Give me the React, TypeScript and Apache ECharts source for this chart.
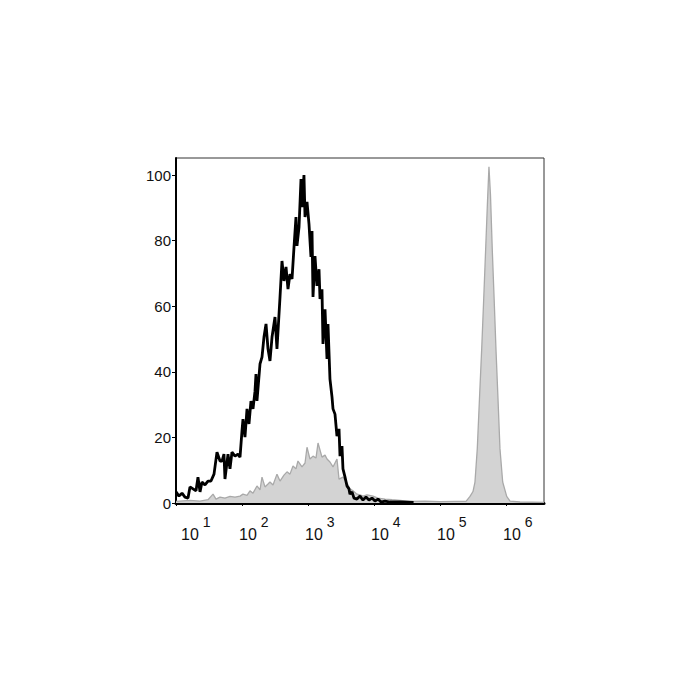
import React, { useEffect, useRef } from "react";
import * as echarts from "echarts";

// x = log10 of fluorescence intensity, y = normalized count (% of max)
const blackHistogram: [number, number][] = [
  [1.0, 3.4], [1.045, 2.1], [1.091, 3.0], [1.136, 1.8], [1.182, 1.5], [1.212, 4.9],
  [1.258, 4.3], [1.303, 3.7], [1.333, 7.9], [1.364, 3.4], [1.394, 6.4], [1.439, 5.5],
  [1.485, 6.7], [1.53, 6.7], [1.576, 8.8], [1.621, 15.5], [1.667, 12.8], [1.697, 12.8],
  [1.727, 14.9], [1.742, 7.3], [1.788, 14.9], [1.818, 10.4], [1.848, 15.5], [1.894, 14.3],
  [1.939, 14.9], [1.97, 14.0], [2.0, 22.0], [2.015, 25.6], [2.045, 20.1], [2.076, 28.7],
  [2.106, 24.1], [2.136, 31.1], [2.167, 28.7], [2.197, 34.1], [2.212, 39.3], [2.227, 31.1],
  [2.273, 42.4], [2.303, 44.5], [2.333, 50.6], [2.364, 54.6], [2.394, 47.0], [2.424, 43.3],
  [2.455, 50.6], [2.5, 56.7], [2.53, 47.0], [2.576, 62.8], [2.606, 73.8], [2.636, 67.7],
  [2.667, 72.0], [2.697, 65.2], [2.727, 69.8], [2.758, 68.3], [2.788, 78.0], [2.818, 87.2],
  [2.833, 78.4], [2.864, 84.1], [2.894, 98.8], [2.909, 90.2], [2.939, 100.0], [2.955, 87.2],
  [2.985, 91.8], [3.015, 85.1], [3.045, 75.0], [3.061, 82.9], [3.076, 62.8], [3.106, 75.3],
  [3.136, 66.2], [3.167, 71.3], [3.182, 62.2], [3.212, 65.2], [3.227, 48.5], [3.258, 59.1],
  [3.288, 43.9], [3.303, 54.6], [3.333, 37.8], [3.364, 32.3], [3.379, 28.7], [3.409, 27.1],
  [3.439, 20.4], [3.47, 22.6], [3.485, 14.3], [3.515, 17.4], [3.53, 10.4], [3.561, 7.9],
  [3.591, 5.2], [3.621, 4.3], [3.636, 2.7], [3.667, 3.4], [3.697, 1.5], [3.742, 1.2],
  [3.788, 2.1], [3.833, 0.9], [3.879, 1.8], [3.924, 0.9], [3.97, 1.5], [4.015, 0.6],
  [4.061, 1.2], [4.106, 0.3], [4.167, 0.6], [4.242, 0.3], [4.394, 0.3], [4.6, 0.2],
];

const grayHistogramLow: [number, number][] = [
  [1.0, 0.5], [1.212, 0.8], [1.364, 0.6], [1.485, 1.0], [1.561, 2.7], [1.606, 1.2],
  [1.667, 1.8], [1.742, 1.5], [1.818, 2.0], [1.894, 1.8], [1.97, 2.1], [2.015, 2.7],
  [2.076, 2.3], [2.121, 3.7], [2.167, 3.0], [2.227, 5.2], [2.273, 4.0], [2.303, 7.9],
  [2.348, 4.9], [2.394, 5.8], [2.424, 6.4], [2.47, 5.5], [2.53, 8.8], [2.576, 6.7],
  [2.636, 8.5], [2.682, 9.5], [2.727, 8.8], [2.773, 11.3], [2.818, 10.4], [2.848, 12.8],
  [2.909, 11.0], [2.955, 12.2], [2.985, 17.0], [3.03, 13.4], [3.076, 14.3], [3.121, 13.7],
  [3.152, 18.3], [3.212, 14.0], [3.258, 14.6], [3.288, 13.4], [3.333, 12.5], [3.379, 11.0],
  [3.439, 13.4], [3.47, 7.3], [3.53, 7.9], [3.591, 6.1], [3.636, 4.3], [3.682, 3.7],
  [3.742, 2.7], [3.788, 2.5], [3.833, 2.1], [3.894, 2.5], [3.985, 2.1], [4.061, 1.5],
  [4.167, 1.2], [4.273, 1.0], [4.394, 0.8], [4.545, 0.5], [4.773, 0.6], [5.0, 0.4],
  [5.227, 0.5],
];

const grayHistogramPeak: [number, number][] = [
  [5.394, 0.5], [5.455, 2.0], [5.5, 3.5], [5.53, 6.4], [5.565, 16.5], [5.598, 31.7],
  [5.632, 47.0], [5.662, 62.0], [5.692, 77.4], [5.72, 92.0], [5.742, 102.5], [5.765, 94.0],
  [5.792, 77.4], [5.821, 62.0], [5.848, 47.0], [5.879, 31.7], [5.909, 16.5], [5.95, 6.4],
  [6.011, 2.0], [6.061, 0.6], [6.212, 0.3], [6.576, 0.2],
];

const yTicks = [0, 20, 40, 60, 80, 100];
const xDecades = [1, 2, 3, 4, 5, 6];

export default function App() {
  const ref = useRef<HTMLDivElement>(null);
  useEffect(() => {
    if (!ref.current) return;
    const chart = echarts.init(ref.current, undefined, { renderer: "svg" });
    const font = "Liberation Sans, Arial, sans-serif";
    chart.setOption({
      animation: false,
      backgroundColor: "#ffffff",
      grid: {
        left: 176,
        right: 156,
        top: 158,
        bottom: 197,
        show: true,
        borderColor: "#333",
        borderWidth: 1,
        backgroundColor: "transparent",
      },
      xAxis: {
        type: "value",
        min: 1,
        max: 6.576,
        interval: 1,
        splitLine: { show: false },
        axisLine: { show: true, onZero: false, lineStyle: { color: "#000", width: 3 } },
        axisTick: { show: true, length: 3, lineStyle: { color: "#000", width: 1 } },
        axisLabel: {
          margin: 11,
          showMaxLabel: false,
          align: "left",
          verticalAlign: "top",
          formatter: (v: number) =>
            xDecades.includes(v) ? (v === 1 ? `{f|10}{s|${v}}` : `{b|10}{s|${v}}`) : "",
          rich: {
            b: { fontSize: 16, fontFamily: font, color: "#111", padding: [12, 0, 0, -3] },
            f: { fontSize: 16, fontFamily: font, color: "#111", padding: [12, 0, 0, 5] },
            s: { fontSize: 14, fontFamily: font, color: "#111", padding: [0, 0, 12, 4] },
          },
        },
      },
      yAxis: {
        type: "value",
        min: 0,
        max: 105.2,
        interval: 20,
        splitLine: { show: false },
        axisLine: { show: true, lineStyle: { color: "#000", width: 2 } },
        axisTick: { show: true, length: 4, lineStyle: { color: "#000", width: 1 } },
        axisLabel: {
          margin: 5,
          showMaxLabel: false,
          fontSize: 15,
          fontFamily: font,
          color: "#111",
          padding: [7, 0, 0, 0],
          formatter: (v: number) => (yTicks.includes(v) ? String(v) : ""),
        },
      },
      series: [
        {
          type: "line",
          data: [...grayHistogramLow, ...grayHistogramPeak],
          showSymbol: false,
          symbol: "none",
          lineStyle: { color: "#a9a9a9", width: 1.3 },
          areaStyle: { color: "#d3d3d3", opacity: 1 },
          z: 2,
        },
        {
          type: "line",
          data: blackHistogram,
          showSymbol: false,
          symbol: "none",
          lineStyle: { color: "#000", width: 2.8 },
          z: 3,
        },
      ],
    });
    return () => chart.dispose();
  }, []);
  return (
    <div
      ref={ref}
      style={{ position: "fixed", left: 0, top: 0, width: 700, height: 700, background: "#fff" }}
    />
  );
}
